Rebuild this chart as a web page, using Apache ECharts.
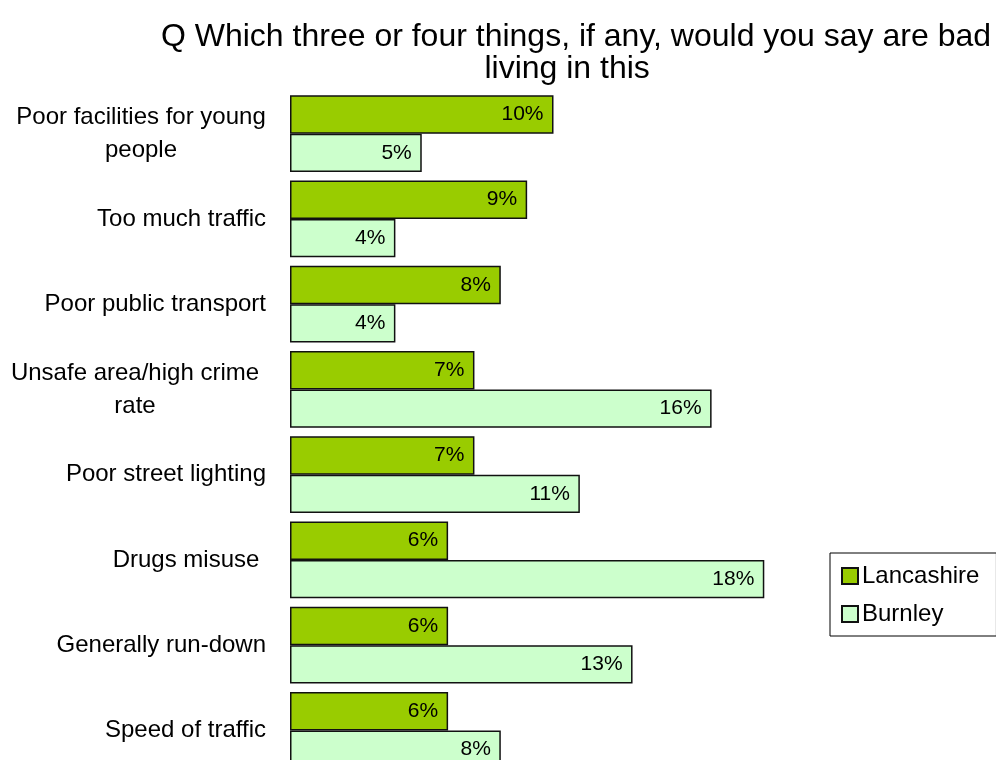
<!DOCTYPE html>
<html>
<head>
<meta charset="utf-8">
<script src="https://cdn.jsdelivr.net/npm/echarts@6/dist/echarts.min.js"></script>
<style>
html,body{margin:0;padding:0;background:#fff;}
#chart{width:996px;height:760px;}
</style>
</head>
<body>
<div id="chart"></div>
<script>
const categories = [
  "Poor facilities for young\npeople",
  "Too much traffic",
  "Poor public transport",
  "Unsafe area/high crime\nrate",
  "Poor street lighting",
  "Drugs misuse ",
  "Generally run-down",
  "Speed of traffic"
];
const lancashire = [10, 9, 8, 7, 7, 6, 6, 6];
const burnley = [5, 4, 4, 16, 11, 18, 13, 8];
const seriesNames = ["Lancashire", "Burnley"];
const titleText = "Q Which three or four things, if any, would you say are bad\nliving in this  ";

const FONT = "Liberation Sans, Arial, sans-serif";
const chart = echarts.init(document.getElementById('chart'), null, {renderer: 'canvas'});

function labelFormatter(v) {
  if (v.indexOf('\n') >= 0) {
    const key = v.indexOf('Unsafe') === 0 ? 'd' : 'c';
    return v.split('\n').map(s => '{' + key + '|' + s + '}').join('\n');
  }
  return v;
}

const barLabel = {
  show: true,
  position: 'insideRight',
  distance: 10,
  color: '#000',
  fontFamily: FONT,
  fontSize: 21,
  formatter: p => p.value + '%'
};

const richBase = {fontFamily: FONT, fontSize: 24, color: '#000', lineHeight: 33, align: 'center'};

chart.setOption({
  backgroundColor: '#fff',
  animation: false,
  title: {
    text: titleText,
    left: 571,
    top: 16,
    textAlign: 'center',
    textStyle: {fontFamily: FONT, fontSize: 32, fontWeight: 'normal', color: '#000', lineHeight: 32}
  },
  legend: {
    orient: 'vertical',
    left: 830,
    top: 553,
    padding: [11, 17, 10, 11],
    itemGap: 14,
    itemWidth: 16,
    itemHeight: 16,
    icon: 'rect',
    borderColor: '#000',
    borderWidth: 1,
    textStyle: {fontFamily: FONT, fontSize: 24, color: '#000', padding: [0, 0, 0, -1]},
    data: seriesNames
  },
  grid: {left: 290, top: 91, width: 527, height: 682, containLabel: false, outerBoundsMode: 'none'},
  xAxis: {
    type: 'value', min: 0, max: 20,
    show: false
  },
  yAxis: {
    type: 'category',
    inverse: true,
    data: categories,
    axisLine: {show: false},
    axisTick: {show: false},
    axisLabel: {
      margin: 24,
      fontFamily: FONT,
      fontSize: 24,
      color: '#000',
      lineHeight: 33,
      formatter: labelFormatter,
      rich: {
        c: Object.assign({width: 250}, richBase),
        d: Object.assign({width: 262}, richBase)
      }
    }
  },
  series: [
    {
      name: seriesNames[0], type: 'bar', data: lancashire,
      barGap: '0%', barCategoryGap: '10%',
      itemStyle: {color: '#99CC00', borderColor: '#111', borderWidth: 1.5},
      label: barLabel
    },
    {
      name: seriesNames[1], type: 'bar', data: burnley,
      barGap: '0%', barCategoryGap: '10%',
      itemStyle: {color: '#CCFFCC', borderColor: '#111', borderWidth: 1.5},
      label: barLabel
    }
  ]
});
</script>
</body>
</html>
